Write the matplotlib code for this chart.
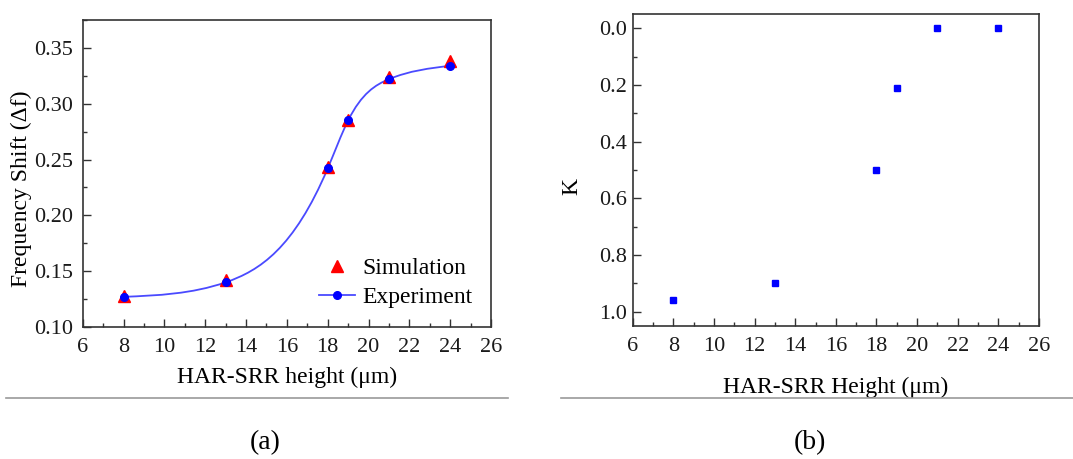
import numpy as np
import matplotlib
matplotlib.use("Agg")
import matplotlib.pyplot as plt
from matplotlib.path import Path
from matplotlib.patches import PathPatch
from matplotlib.lines import Line2D
from matplotlib.ticker import MultipleLocator

plt.rcParams['font.family'] = ['Liberation Serif', 'DejaVu Serif']

# data
height = [8, 13, 18, 19, 21, 24]
sim_shift = [0.128, 0.142, 0.243, 0.285, 0.324, 0.338]
exp_shift = [0.127, 0.140, 0.242, 0.285, 0.322, 0.334]
k_height = [8, 13, 18, 19, 21, 24]
k_values = [0.96, 0.90, 0.50, 0.21, 0.0, 0.0]


def spline_path(x, y):
    # natural cubic spline through the points, handed to matplotlib as bezier segments
    x = np.asarray(x, float)
    y = np.asarray(y, float)
    n = len(x)
    h = np.diff(x)
    d = np.diff(y) / h
    A = np.zeros((n, n))
    b = np.zeros(n)
    A[0, 0] = A[-1, -1] = 1
    for i in range(1, n - 1):
        A[i, i - 1] = h[i - 1]
        A[i, i] = 2 * (h[i - 1] + h[i])
        A[i, i + 1] = h[i]
        b[i] = 6 * (d[i] - d[i - 1])
    M = np.linalg.solve(A, b)
    m = np.zeros(n)
    m[:-1] = d - h * (2 * M[:-1] + M[1:]) / 6
    m[-1] = d[-1] + h[-1] * (M[-2] + 2 * M[-1]) / 6
    verts = [(x[0], y[0])]
    codes = [Path.MOVETO]
    for i in range(n - 1):
        verts += [(x[i] + h[i] / 3, y[i] + h[i] * m[i] / 3),
                  (x[i + 1] - h[i] / 3, y[i + 1] - h[i] * m[i + 1] / 3),
                  (x[i + 1], y[i + 1])]
        codes += [Path.CURVE4] * 3
    return Path(verts, codes)


fig = plt.figure(figsize=(10.73, 4.59), dpi=100)
ax1 = fig.add_axes([0.0771, 0.2876, 0.3805, 0.6688])
ax2 = fig.add_axes([0.5897, 0.2898, 0.3786, 0.6797])

line_blue = '#4a4aff'

# (a) frequency shift
ax1.add_patch(PathPatch(spline_path(height, exp_shift), facecolor='none',
                        edgecolor=line_blue, lw=1.3, zorder=2))
ax1.plot(height, sim_shift, ls='none', marker='^', ms=9, color='red', zorder=3)
ax1.plot(height, exp_shift, ls='none', marker='o', ms=5.5, color='blue', zorder=4)
ax1.set_xlim(6, 26)
ax1.set_ylim(0.10, 0.375)
ax1.xaxis.set_major_locator(MultipleLocator(2))
ax1.xaxis.set_minor_locator(MultipleLocator(1))
ax1.set_yticks([0.10, 0.15, 0.20, 0.25, 0.30, 0.35])
ax1.set_yticklabels(['0.10', '0.15', '0.20', '0.25', '0.30', '0.35'])
ax1.yaxis.set_minor_locator(MultipleLocator(0.025))
ax1.set_xlabel('HAR-SRR height (μm)', fontsize=17)
ax1.set_ylabel('Frequency Shift (Δf)', fontsize=17)
ax1.xaxis.set_label_coords(0.5, -0.13)
ax1.yaxis.set_label_coords(-0.125, 0.45)

handles = [Line2D([], [], ls='none', marker='^', ms=9, color='red'),
           Line2D([], [], ls='-', lw=1.3, color=line_blue, marker='o', ms=5.5,
                  markerfacecolor='blue', markeredgecolor='blue')]
ax1.legend(handles, ['Simulation', 'Experiment'], loc='lower right',
           frameon=False, fontsize=17, handlelength=1.5, handletextpad=0.3,
           labelspacing=0.3, borderaxespad=0.4)

# (b) K
ax2.plot(k_height, k_values, ls='none', marker='s', ms=5, color='blue')
ax2.set_xlim(6, 26)
ax2.set_ylim(1.05, -0.05)
ax2.xaxis.set_major_locator(MultipleLocator(2))
ax2.xaxis.set_minor_locator(MultipleLocator(1))
ax2.set_yticks([0.0, 0.2, 0.4, 0.6, 0.8, 1.0])
ax2.set_yticklabels(['0.0', '0.2', '0.4', '0.6', '0.8', '1.0'])
ax2.yaxis.set_minor_locator(MultipleLocator(0.1))
ax2.set_xlabel('HAR-SRR Height (μm)', fontsize=17)
ax2.set_ylabel('K', fontsize=17)
ax2.xaxis.set_label_coords(0.5, -0.163)
ax2.yaxis.set_label_coords(-0.123, 0.446)

for ax, ypad in [(ax1, 7), (ax2, 4)]:
    for s in ax.spines.values():
        s.set_color('#333333')
        s.set_linewidth(1.2)
    ax.tick_params(which='both', direction='in', top=False, right=False,
                   colors='#333333', labelcolor='#1a1a1a', labelsize=16)
    ax.tick_params(which='major', length=6, width=1)
    ax.tick_params(which='minor', length=3, width=1)
    ax.tick_params(axis='x', pad=8)
    ax.tick_params(axis='y', pad=ypad)

# divider lines and captions
fig.add_artist(Line2D([0.006, 0.473], [0.133, 0.133], color='#999999', lw=1.2))
fig.add_artist(Line2D([0.523, 1.0], [0.133, 0.133], color='#999999', lw=1.2))
fig.text(0.247, 0.035, '(a)', ha='center', va='center', fontsize=20)
fig.text(0.755, 0.035, '(b)', ha='center', va='center', fontsize=20)

fig.savefig('out.png', dpi=100)
